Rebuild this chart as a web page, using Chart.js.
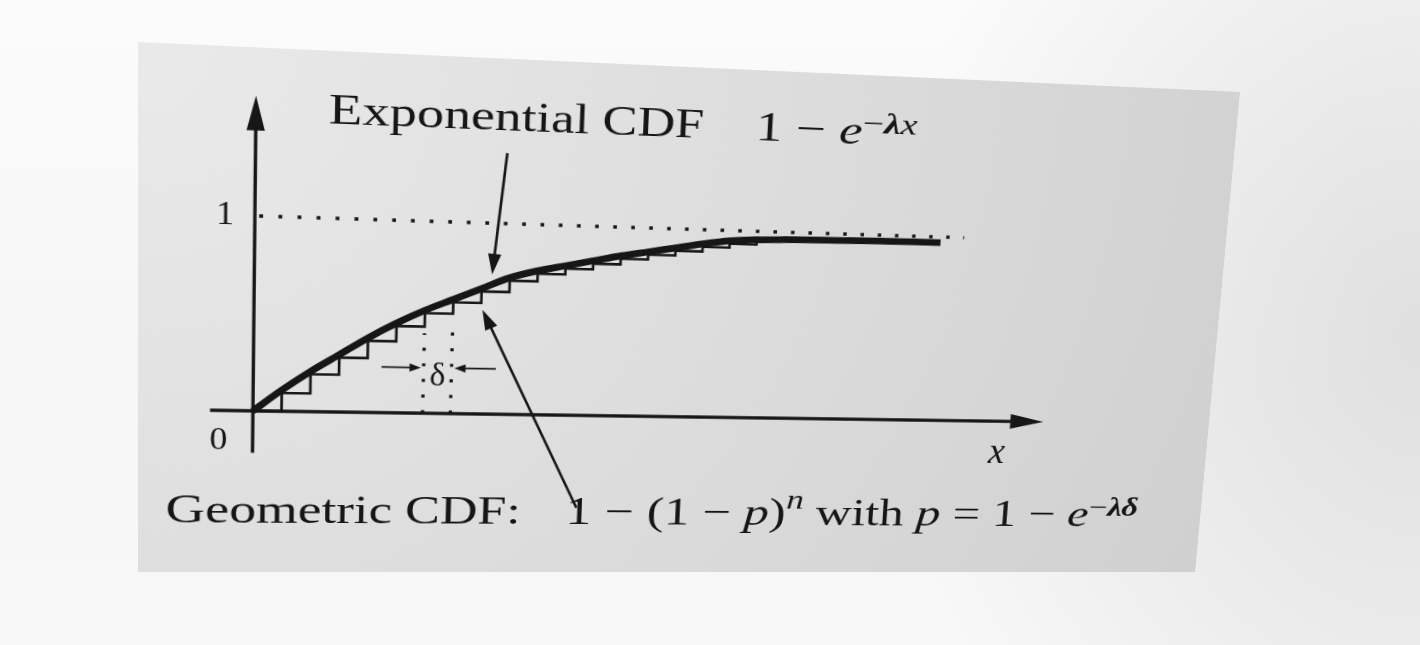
<!DOCTYPE html>
<html>
<head>
<meta charset="utf-8">
<title>Exponential and geometric CDF</title>
<script src="https://cdn.jsdelivr.net/npm/chart.js@4.4.1/dist/chart.umd.min.js"></script>
<style>
  html, body { margin: 0; padding: 0; width: 1420px; height: 645px; overflow: hidden; }
  body {
    background:
      radial-gradient(ellipse 520px 700px at 1420px 330px, rgba(205,205,205,0.55), rgba(205,205,205,0) 100%),
      linear-gradient(180deg, #fbfbfb 0%, #f6f6f6 60%, #f8f8f8 100%);
  }
  #fig { position: absolute; left: 0; top: 0; width: 1100px; height: 530px; transform-origin: 0 0; }
  #fig canvas { display: block; }
</style>
</head>
<body>
<div id="fig"><canvas id="cdf" width="1100" height="530"></canvas></div>
<script>
// x is measured in multiples of delta
const DELTA_N  = [0, 1, 2, 3, 4, 5, 6, 7, 8, 9, 10, 11, 12, 13, 14, 15, 16, 17, 18, 19, 20, 21, 22, 23, 24, 25];
const EXP_CDF  = [0, 0.11, 0.21, 0.30, 0.39, 0.47, 0.54, 0.60, 0.66, 0.72, 0.76, 0.79, 0.82, 0.85, 0.875, 0.90, 0.925, 0.945, 0.955, 0.96, 0.963, 0.965, 0.967, 0.968, 0.969, 0.97];
const GEO_N    = [0, 1, 2, 3, 4, 5, 6, 7, 8, 9, 10, 11, 12, 13, 14, 15, 16, 17, 18];
const GEO_CDF  = [0, 0.095, 0.195, 0.285, 0.375, 0.455, 0.525, 0.585, 0.645, 0.705, 0.745, 0.775, 0.805, 0.835, 0.86, 0.885, 0.91, 0.93, 0.94];
const UNIT_LEVEL = 1;
const UNIT_SPAN  = [0.15, 25.9];
const DELTA_MARKS     = [6, 7];
const DELTA_MARK_TOPS = [0.42, 0.49];
const Y_TICK_VALUES = [0, 1];
const Y_TICK_LABELS = ['0', '1'];
const X_AXIS_LABEL  = 'x';

// figure box size and where its corners sit on the page (TL, TR, BR, BL)
const BOX_W = 1100, BOX_H = 530;
const BOX_QUAD = [138, 42, 1240, 92, 1195, 572, 138, 572];

const INK = '#161616';
const SERIF = "'Liberation Serif', 'Times New Roman', serif";

function quadTransform(w, h, q) {
  const [x0, y0, x1, y1, x2, y2, x3, y3] = q;
  const dx1 = x1 - x2, dx2 = x3 - x2, dx3 = x0 - x1 + x2 - x3;
  const dy1 = y1 - y2, dy2 = y3 - y2, dy3 = y0 - y1 + y2 - y3;
  const den = dx1 * dy2 - dx2 * dy1;
  const g = (dx3 * dy2 - dx2 * dy3) / den;
  const k = (dx1 * dy3 - dx3 * dy1) / den;
  const a = x1 - x0 + g * x1, b = x3 - x0 + k * x3;
  const d = y1 - y0 + g * y1, e = y3 - y0 + k * y3;
  return `matrix3d(${a / w},${d / w},0,${g / w},${b / h},${e / h},0,${k / h},0,0,1,0,${x0},${y0},0,1)`;
}
document.getElementById('fig').style.transform = quadTransform(BOX_W, BOX_H, BOX_QUAD);

function arrowHead(ctx, tx, ty, fx, fy, len, half) {
  const ang = Math.atan2(ty - fy, tx - fx);
  ctx.save();
  ctx.translate(tx, ty);
  ctx.rotate(ang);
  ctx.beginPath();
  ctx.moveTo(0, 0);
  ctx.lineTo(-len, -half);
  ctx.lineTo(-len, half);
  ctx.closePath();
  ctx.fill();
  ctx.restore();
}

function arrow(ctx, x0, y0, x1, y1, width, len, half) {
  const ang = Math.atan2(y1 - y0, x1 - x0);
  ctx.lineWidth = width;
  ctx.beginPath();
  ctx.moveTo(x0, y0);
  ctx.lineTo(x1 - Math.cos(ang) * len * 0.8, y1 - Math.sin(ang) * len * 0.8);
  ctx.stroke();
  arrowHead(ctx, x1, y1, x0, y0, len, half);
}

// draws a row of text pieces squeezed/stretched to a given width
function drawRuns(ctx, runs, x, y, width) {
  let total = 0;
  runs.forEach(r => { ctx.font = r.font; r.w = ctx.measureText(r.text).width; total += r.w; });
  const k = width / total;
  ctx.save();
  ctx.translate(x, y);
  ctx.scale(k, 1);
  let cx = 0;
  runs.forEach(r => {
    ctx.font = r.font;
    ctx.fillText(r.text, cx, -(r.rise || 0));
    cx += r.w;
  });
  ctx.restore();
}

const roman = s => `${s}px ${SERIF}`;
const ital  = s => `italic ${s}px ${SERIF}`;
const boldI = s => `bold italic ${s}px ${SERIF}`;

// caption rows: [x start, x end, baseline y] in data units
const CAPTIONS = [
  { at: [2.49, 15.83, 1.477], runs: [{ text: 'Exponential CDF', font: roman(42) }] },
  { at: [17.75, 23.81, 1.477], runs: [
      { text: '1', font: roman(42) }, { text: ' − ', font: roman(42) }, { text: 'e', font: ital(42) },
      { text: '−', font: roman(30), rise: 12 }, { text: 'λ', font: boldI(30), rise: 12 }, { text: 'x', font: ital(30), rise: 12 }] },
  { at: [-3.01, 9.67, -0.589], runs: [{ text: 'Geometric CDF:', font: roman(42) }] },
  { at: [11.34, 33.72, -0.589], runs: [
      { text: '1 − (1 − ', font: roman(42) }, { text: 'p', font: ital(42) }, { text: ')', font: roman(42) },
      { text: 'n', font: ital(29), rise: 18 }, { text: ' with ', font: roman(42) }, { text: 'p', font: ital(42) },
      { text: ' = 1 − ', font: roman(42) }, { text: 'e', font: ital(42) },
      { text: '−', font: roman(29), rise: 12 }, { text: 'λδ', font: boldI(29), rise: 12 }] }
];

// pointer arrows: [tail x, tail y, tip x, tip y] in data units
const POINTERS = [
  [8.77, 1.361, 8.36, 0.735],
  [11.73, -0.50, 8.05, 0.55]
];

const figurePlugin = {
  id: 'figure',
  beforeDraw(chart) {
    const { ctx, width, height } = chart;
    const grad = ctx.createRadialGradient(0, 0, 40, 0, 0, 1250);
    grad.addColorStop(0, '#e9e9e9');
    grad.addColorStop(0.5, '#dcdcdc');
    grad.addColorStop(1, '#cfcfcf');
    ctx.save();
    ctx.fillStyle = grad;
    ctx.fillRect(0, 0, width, height);
    ctx.restore();
  },
  beforeDatasetsDraw(chart) {
    const { ctx, scales: { x, y } } = chart;
    ctx.save();
    ctx.strokeStyle = INK;
    ctx.fillStyle = INK;
    ctx.lineCap = 'butt';
    // x axis
    const y0 = y.getPixelForValue(0);
    const xl = x.getPixelForValue(x.min), xr = x.getPixelForValue(x.max);
    arrow(ctx, xl, y0, xr, y0, 3.4, 36, 8);
    // y axis
    const x0 = x.getPixelForValue(0);
    const yb = y.getPixelForValue(y.min), yt = y.getPixelForValue(y.max);
    arrow(ctx, x0, yb, x0, yt, 3.2, 34, 8.5);
    ctx.restore();
  },
  afterDatasetsDraw(chart) {
    const { ctx, scales: { x, y } } = chart;
    ctx.save();
    ctx.fillStyle = INK;
    ctx.strokeStyle = INK;

    // tick labels
    ctx.font = roman(34);
    ctx.textAlign = 'right';
    ctx.textBaseline = 'middle';
    ctx.fillText(Y_TICK_LABELS[1], x.getPixelForValue(-0.71), y.getPixelForValue(Y_TICK_VALUES[1]));
    ctx.textAlign = 'center';
    ctx.fillText(Y_TICK_LABELS[0], x.getPixelForValue(-1.19), y.getPixelForValue(-0.16));
    ctx.font = ital(40);
    ctx.fillText(X_AXIS_LABEL, x.getPixelForValue(27.8), y.getPixelForValue(-0.18));

    // delta marker between the dotted verticals
    ctx.font = roman(33);
    ctx.fillText('δ', x.getPixelForValue(6.5), y.getPixelForValue(0.19));
    const ya = y.getPixelForValue(0.24);
    arrow(ctx, x.getPixelForValue(4.5), ya, x.getPixelForValue(5.9), ya, 1.7, 11, 4.2);
    arrow(ctx, x.getPixelForValue(8.6), ya, x.getPixelForValue(7.1), ya, 1.7, 11, 4.2);

    // pointers to the two curves
    POINTERS.forEach(p => {
      arrow(ctx, x.getPixelForValue(p[0]), y.getPixelForValue(p[1]),
        x.getPixelForValue(p[2]), y.getPixelForValue(p[3]), 2.6, 21, 6.5);
    });

    // captions
    ctx.textAlign = 'left';
    ctx.textBaseline = 'alphabetic';
    CAPTIONS.forEach(c => {
      const xs = x.getPixelForValue(c.at[0]), xe = x.getPixelForValue(c.at[1]);
      drawRuns(ctx, c.runs, xs, y.getPixelForValue(c.at[2]), xe - xs);
    });
    ctx.restore();
  }
};

const pts = (xs, ys) => xs.map((v, i) => ({ x: v, y: ys[i] }));

new Chart(document.getElementById('cdf'), {
  type: 'scatter',
  data: {
    datasets: [
      {
        label: 'unit level',
        data: pts(UNIT_SPAN, [UNIT_LEVEL, UNIT_LEVEL]),
        showLine: true, borderColor: INK, borderWidth: 3.6, borderDash: [3.6, 14.4],
        pointRadius: 0, order: 4
      },
      {
        label: 'delta left',
        data: pts([DELTA_MARKS[0], DELTA_MARKS[0]], [0, DELTA_MARK_TOPS[0]]),
        showLine: true, borderColor: INK, borderWidth: 3.2, borderDash: [3.2, 13],
        pointRadius: 0, order: 3
      },
      {
        label: 'delta right',
        data: pts([DELTA_MARKS[1], DELTA_MARKS[1]], [0, DELTA_MARK_TOPS[1]]),
        showLine: true, borderColor: INK, borderWidth: 3.2, borderDash: [3.2, 13],
        pointRadius: 0, order: 3
      },
      {
        label: 'Geometric CDF',
        data: pts(GEO_N, GEO_CDF),
        showLine: true, stepped: 'before', borderColor: INK, borderWidth: 2.6,
        pointRadius: 0, order: 2
      },
      {
        label: 'Exponential CDF',
        data: pts(DELTA_N, EXP_CDF),
        showLine: true, cubicInterpolationMode: 'monotone', borderColor: INK, borderWidth: 7,
        borderCapStyle: 'butt', pointRadius: 0, order: 1
      }
    ]
  },
  options: {
    responsive: false,
    animation: false,
    events: [],
    layout: { padding: { left: 67.6, right: 184.5, top: 46.8, bottom: 124.7 } },
    plugins: { legend: { display: false }, tooltip: { enabled: false } },
    scales: {
      x: { type: 'linear', min: -1.49, max: 29.57, display: false },
      y: { type: 'linear', min: -0.22, max: 1.6, display: false }
    }
  },
  plugins: [figurePlugin]
});
</script>
</body>
</html>
